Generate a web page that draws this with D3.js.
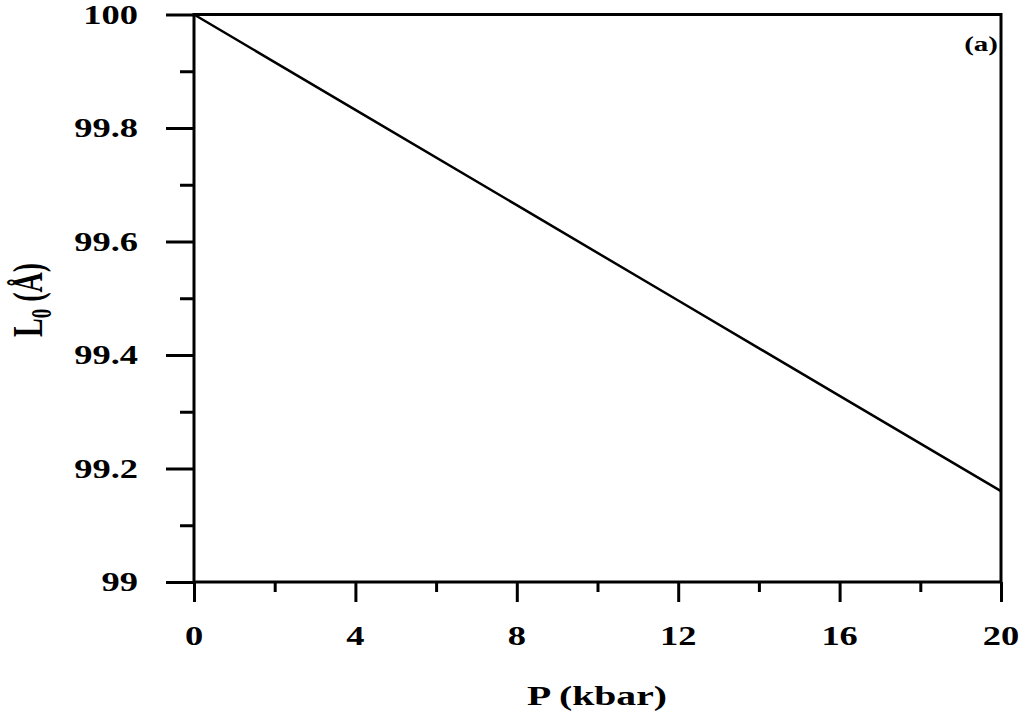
<!DOCTYPE html>
<html>
<head>
<meta charset="utf-8">
<script src="https://cdn.jsdelivr.net/npm/d3@7"></script>
<style>
  html, body { margin: 0; padding: 0; background: #fff; }
  svg { display: block; }
  text { font-family: "Liberation Serif", "Times New Roman", serif; font-weight: bold; fill: #000; }
</style>
</head>
<body>
<svg id="chart" width="1029" height="724"></svg>
<script>
// Lattice length L0 versus pressure
const pressure = [0, 4, 8, 12, 16, 20];                       // kbar
const lengthL0 = [100, 99.832, 99.664, 99.496, 99.328, 99.16]; // Å

const xMajorTicks = [0, 4, 8, 12, 16, 20];
const xMinorTicks = [2, 6, 10, 14, 18];
const yMajorTicks = [99, 99.2, 99.4, 99.6, 99.8, 100];
const yMinorTicks = [99.1, 99.3, 99.5, 99.7, 99.9];
const yTickLabels = ["99", "99.2", "99.4", "99.6", "99.8", "100"];
const xTickLabels = ["0", "4", "8", "12", "16", "20"];

const svg = d3.select("#chart");
const plotLeft = 194, plotRight = 1001, plotTop = 14.5, plotBottom = 582;

const x = d3.scaleLinear().domain([0, 20]).range([plotLeft, plotRight]);
const y = d3.scaleLinear().domain([99, 100]).range([plotBottom, plotTop]);

// frame
svg.append("rect")
  .attr("x", plotLeft).attr("y", plotTop)
  .attr("width", plotRight - plotLeft).attr("height", plotBottom - plotTop)
  .attr("fill", "none").attr("stroke", "#000").attr("stroke-width", 3);

// y ticks (left side, outward)
function yAxis(ticks, size) {
  const g = svg.append("g").attr("transform", `translate(${plotLeft},0)`)
    .call(d3.axisLeft(y).tickValues(ticks).tickSize(size).tickFormat(""));
  g.select(".domain").remove();
  g.selectAll(".tick line").attr("stroke", "#000").attr("stroke-width", 3);
}
yAxis(yMajorTicks, 28);
yAxis(yMinorTicks, 14);

// x ticks (bottom, outward)
function xAxis(ticks, size) {
  const g = svg.append("g").attr("transform", `translate(0,${plotBottom})`)
    .call(d3.axisBottom(x).tickValues(ticks).tickSize(size).tickFormat(""));
  g.select(".domain").remove();
  g.selectAll(".tick line").attr("stroke", "#000").attr("stroke-width", 3);
}
xAxis(xMajorTicks, 20);
xAxis(xMinorTicks, 10);

// helper for horizontally stretched text
function wideText(px, py, str, size, anchor, stretch) {
  const g = svg.append("g")
    .attr("transform", `translate(${px},${py}) scale(${stretch},1)`);
  return g.append("text").attr("text-anchor", anchor).attr("font-size", size).text(str);
}

// y tick labels
yMajorTicks.forEach((v, i) => {
  wideText(138, y(v) + 9, yTickLabels[i], 27, "end", 1.35);
});

// x tick labels
xMajorTicks.forEach((v, i) => {
  wideText(x(v), 645, xTickLabels[i], 27, "middle", 1.35);
});

// axis titles
wideText(597, 705, "P (kbar)", 27, "middle", 1.47);

const yt = svg.append("g").attr("transform", `translate(42,300) scale(1.5,1) rotate(-90)`)
  .append("text").attr("text-anchor", "middle").attr("font-size", 28);
yt.append("tspan").text("L");
yt.append("tspan").attr("font-size", 19).attr("dy", 6).text("0");
yt.append("tspan").attr("dy", -6).text(" (Å)");

// panel label
wideText(998, 51, "(a)", 20, "end", 1.45);

// data line
svg.append("path")
  .datum(pressure.map((p, i) => [p, lengthL0[i]]))
  .attr("fill", "none").attr("stroke", "#000").attr("stroke-width", 2.5)
  .attr("d", d3.line().x(d => x(d[0])).y(d => y(d[1])));
</script>
</body>
</html>
